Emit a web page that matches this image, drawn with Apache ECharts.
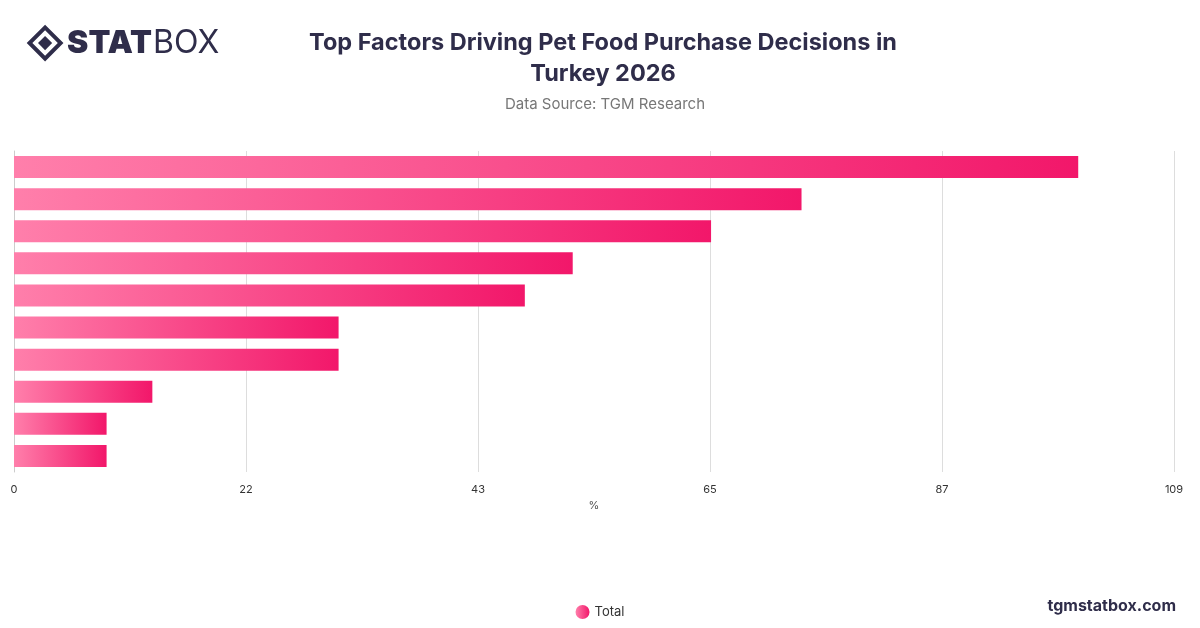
<!DOCTYPE html>
<html>
<head>
<meta charset="utf-8">
<script src="https://cdn.jsdelivr.net/npm/echarts@6/dist/echarts.min.js"></script>
<style>html,body{margin:0;padding:0;background:#fff}#chart{width:1200px;height:628px}</style>
</head>
<body>
<div id="chart"></div>
<script>
var categories = ['Factor 1', 'Factor 2', 'Factor 3', 'Factor 4', 'Factor 5', 'Factor 6', 'Factor 7', 'Factor 8', 'Factor 9', 'Factor 10'];
var totalValues = [100, 74, 65.5, 52.5, 48, 30.5, 30.5, 13, 8.7, 8.7];
var tickLabels = ['0', '22', '43', '65', '87', '109'];

var chart = echarts.init(document.getElementById('chart'));

var barColor = new echarts.graphic.LinearGradient(0, 0, 1, 0, [
    { offset: 0, color: '#ff7fab' },
    { offset: 1, color: '#f2176a' }
]);

var option = {
    title: [
        {
            text: 'Top Factors Driving Pet Food Purchase Decisions in\nTurkey 2026',
            left: 598,
            top: 22,
            textAlign: 'center',
            textStyle: { fontFamily: 'Inter', fontSize: 23.5, fontWeight: 'bold', color: '#2f2d4a', lineHeight: 31 }
        },
        {
            text: 'Data Source: TGM Research',
            left: 600,
            top: 92,
            textAlign: 'center',
            textStyle: { fontFamily: 'Inter', fontSize: 15, fontWeight: 'normal', color: '#777' }
        }
    ],
    legend: {
        bottom: 4,
        left: 'center',
        icon: 'circle',
        itemWidth: 14,
        itemHeight: 14,
        textStyle: { fontFamily: 'Inter', fontSize: 13, color: '#333' },
        data: ['Total']
    },
    grid: { left: 14, right: 26, top: 151, bottom: 156 },
    xAxis: {
        type: 'value',
        min: 0,
        max: 109,
        interval: 21.8,
        name: '%',
        nameLocation: 'middle',
        nameGap: 28,
        nameTextStyle: { fontFamily: 'Inter', fontSize: 11, color: '#555' },
        axisLabel: {
            fontFamily: 'Inter', fontSize: 11, color: '#333', margin: 12,
            formatter: function (v) { return tickLabels[Math.round(v / 21.8)]; }
        },
        splitLine: { lineStyle: { color: '#ddd' } },
        axisLine: { show: false },
        axisTick: { show: false }
    },
    yAxis: {
        type: 'category',
        inverse: true,
        data: categories,
        axisLabel: { show: false },
        axisTick: { show: false },
        axisLine: { show: true, lineStyle: { color: '#ccc' } }
    },
    series: [
        {
            name: 'Total',
            type: 'bar',
            data: totalValues,
            barWidth: 22,
            itemStyle: { color: barColor }
        }
    ],
    graphic: [
        {
            type: 'group',
            left: 26,
            top: 24,
            children: [
                { type: 'rect', shape: { x: 6, y: 0, width: 22, height: 22 }, rotation: Math.PI / 4, originX: 17, originY: 11,
                  style: { fill: 'none', stroke: '#2f2d4a', lineWidth: 4 }, x: 0, y: 5 },
                { type: 'rect', shape: { x: 12, y: 6, width: 10, height: 10 }, rotation: Math.PI / 4, originX: 17, originY: 11,
                  style: { fill: '#2f2d4a' }, x: 0, y: 5 },
                { type: 'text', x: 39, y: 0, style: { text: 'STAT', fontFamily: 'Inter', fontSize: 32, fontWeight: 900, fill: '#2f2d4a' } },
                { type: 'text', x: 125, y: 0, style: { text: 'BOX', fontFamily: 'Inter', fontSize: 32, fontWeight: 'normal', fill: '#2f2d4a' } }
            ]
        },
        {
            type: 'text',
            right: 24,
            bottom: 14,
            style: { text: 'tgmstatbox.com', fontFamily: 'Inter', fontSize: 16, fontWeight: 'bold', fill: '#2f2d4a' }
        }
    ]
};

chart.setOption(option);
</script>
</body>
</html>
